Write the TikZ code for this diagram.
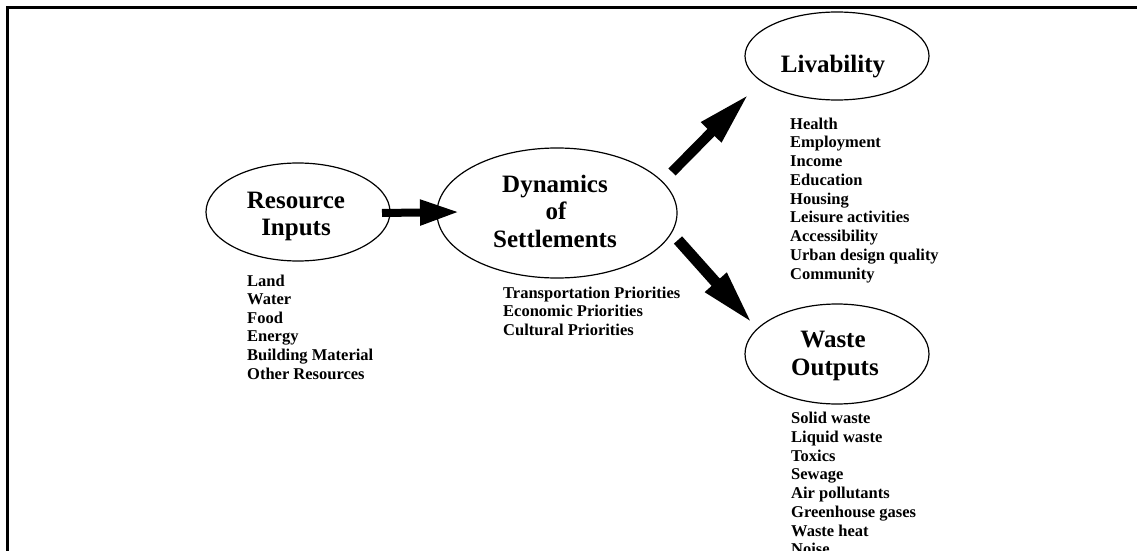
\documentclass[tikz,border=0pt]{standalone}
\usepackage{fontspec}
\setmainfont{Liberation Serif}
\usetikzlibrary{arrows.meta,shapes.geometric}
\begin{document}
\begin{tikzpicture}[x=1pt,y=-1pt,
  hub/.style={draw, ellipse, line width=1.2pt, inner sep=0pt},
  ttl/.style={anchor=base, inner sep=0pt, font=\fontsize{25}{27}\selectfont\bfseries},
  item/.style={anchor=base west, inner sep=0pt, font=\fontsize{16.5}{19}\selectfont\bfseries},
  flow/.style n args={3}{line width=#1, -{Triangle[length=#2, width=#3]}}
]
\useasboundingbox (0,0) rectangle (1137,551);

% open frame: top and left edges
\draw[line width=3pt] (7,551) -- (7,8) -- (1137,8);

% the four ellipses
\node[hub, minimum width=184pt, minimum height=98pt]  (ri)  at (298,212) {};
\node[hub, minimum width=240pt, minimum height=130pt] (dyn) at (557,213) {};
\node[hub, minimum width=184pt, minimum height=88pt]  (liv) at (837,56)  {};
\node[hub, minimum width=184pt, minimum height=100pt] (wo)  at (837,354) {};

% titles
\node[ttl] (ri-t1)  at (296,208) {Resource};
\node[ttl] (ri-t2)  at (296,235) {Inputs};
\node[ttl] (dyn-t1) at (555,192) {Dynamics};
\node[ttl] (dyn-t2) at (556,219) {of};
\node[ttl] (dyn-t3) at (555,247) {Settlements};
\node[ttl] (liv-t1) at (833,72)  {Livability};
\node[ttl] (wo-t1)  at (833,347) {Waste};
\node[ttl] (wo-t2)  at (835,375) {Outputs};

% item lists
\foreach \t [count=\i from 0] in {Land, Water, Food, Energy, Building Material, Other Resources}
  \node[item] (ri-l\i) at (247,286+18.6*\i) {\t};
\foreach \t [count=\i from 0] in {Transportation Priorities, Economic Priorities, Cultural Priorities}
  \node[item] (dyn-l\i) at (503,298+18.75*\i) {\t};
\foreach \t [count=\i from 0] in {Health, Employment, Income, Education, Housing, Leisure activities, Accessibility, Urban design quality, Community}
  \node[item] (liv-l\i) at (790,129+18.75*\i) {\t};
\foreach \t [count=\i from 0] in {Solid waste, Liquid waste, Toxics, Sewage, Air pollutants, Greenhouse gases, Waste heat, Noise}
  \node[item] (wo-l\i) at (791,423.5+18.75*\i) {\t};

% arrow end points
\coordinate (ri-out)  at (382,213);
\coordinate (dyn-in)  at (459,212);
\coordinate (dyn-up)  at (672,172);
\coordinate (liv-in)  at (749,94);
\coordinate (dyn-dn)  at (678,240);
\coordinate (wo-in)   at (753,324);

% block arrows
\draw[flow={8pt}{39pt}{24pt}]  (ri-out) -- (dyn-in);
\draw[flow={10pt}{54pt}{26pt}] (dyn-up) -- (liv-in);
\draw[flow={11pt}{56pt}{26pt}] (dyn-dn) -- (wo-in);
\end{tikzpicture}
\end{document}
